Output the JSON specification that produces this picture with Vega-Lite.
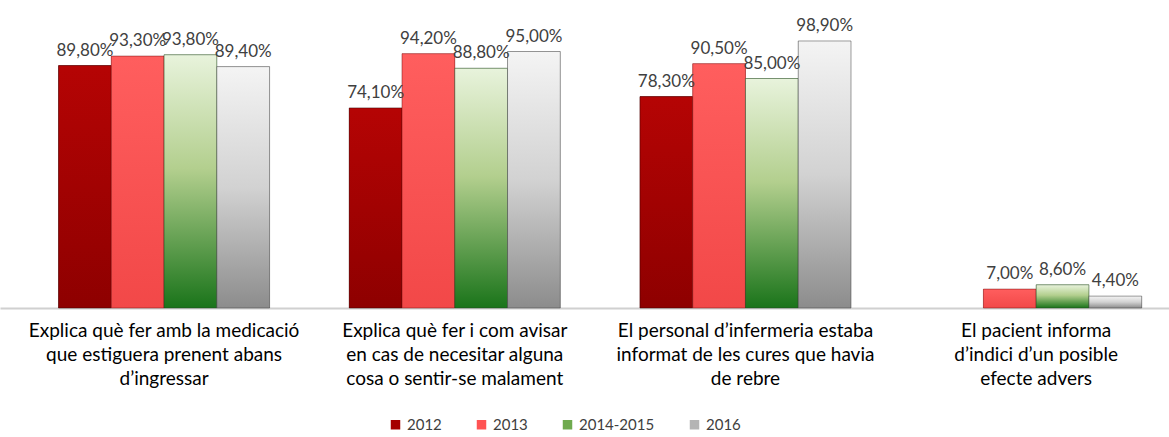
{
  "$schema": "https://vega.github.io/schema/vega-lite/v6.json",
  "width": 1169,
  "height": 270,
  "autosize": {"type": "none"},
  "padding": {"top": 38, "left": 0, "right": 0, "bottom": 129},
  "config": {
    "view": {"stroke": null},
    "font": "Lato",
    "locale": {"number": {"decimal": ",", "thousands": ".", "grouping": [3], "currency": ["", " €"]}}
  },
  "data": {
    "values": [
      {"cat": "Explica què fer amb la medicació|que estiguera prenent abans|d’ingressar", "series": "2012", "value": 0.898},
      {"cat": "Explica què fer amb la medicació|que estiguera prenent abans|d’ingressar", "series": "2013", "value": 0.933},
      {"cat": "Explica què fer amb la medicació|que estiguera prenent abans|d’ingressar", "series": "2014-2015", "value": 0.938},
      {"cat": "Explica què fer amb la medicació|que estiguera prenent abans|d’ingressar", "series": "2016", "value": 0.894},
      {"cat": "Explica què fer i com avisar|en cas de necesitar alguna|cosa o sentir-se malament", "series": "2012", "value": 0.741},
      {"cat": "Explica què fer i com avisar|en cas de necesitar alguna|cosa o sentir-se malament", "series": "2013", "value": 0.942},
      {"cat": "Explica què fer i com avisar|en cas de necesitar alguna|cosa o sentir-se malament", "series": "2014-2015", "value": 0.888},
      {"cat": "Explica què fer i com avisar|en cas de necesitar alguna|cosa o sentir-se malament", "series": "2016", "value": 0.95},
      {"cat": "El personal d’infermeria estaba|informat de les cures que havia|de rebre", "series": "2012", "value": 0.783},
      {"cat": "El personal d’infermeria estaba|informat de les cures que havia|de rebre", "series": "2013", "value": 0.905},
      {"cat": "El personal d’infermeria estaba|informat de les cures que havia|de rebre", "series": "2014-2015", "value": 0.85},
      {"cat": "El personal d’infermeria estaba|informat de les cures que havia|de rebre", "series": "2016", "value": 0.989},
      {"cat": "El pacient informa|d’indici d’un posible|efecte advers", "series": "2013", "value": 0.07},
      {"cat": "El pacient informa|d’indici d’un posible|efecte advers", "series": "2014-2015", "value": 0.086},
      {"cat": "El pacient informa|d’indici d’un posible|efecte advers", "series": "2016", "value": 0.044}
    ]
  },
  "encoding": {
    "x": {
      "field": "cat",
      "type": "nominal",
      "sort": null,
      "scale": {"paddingInner": 0.274, "paddingOuter": 0.1476, "align": 0.682},
      "axis": {
        "title": null,
        "labelAngle": 0,
        "labelExpr": "split(datum.label, '|')",
        "labelFont": "Lato",
        "labelFontSize": 19,
        "labelColor": "#000000",
        "labelLineHeight": 24,
        "labelPadding": 13,
        "labelLimit": 400,
        "ticks": false,
        "domainColor": "#D0D0D0",
        "domainWidth": 2
      }
    },
    "xOffset": {
      "field": "series",
      "type": "nominal",
      "scale": {"domain": ["2012", "2013", "2014-2015", "2016"], "paddingInner": 0, "paddingOuter": 0}
    },
    "y": {"field": "value", "type": "quantitative", "scale": {"domain": [0, 1]}, "axis": null}
  },
  "layer": [
    {
      "mark": {"type": "bar"},
      "encoding": {
        "color": {
          "field": "series",
          "type": "nominal",
          "scale": {"domain": ["2012", "2013", "2014-2015", "2016"], "range": ["#A50000", "#FF5353", "#6FAA4E", "#B4B4B4"]},
          "legend": {
            "orient": "none",
            "legendX": 388,
            "legendY": 379,
            "direction": "horizontal",
            "title": null,
            "symbolType": "square",
            "symbolSize": 90,
            "symbolStrokeWidth": 0,
            "labelFont": "Lato",
            "labelFontSize": 15,
            "labelColor": "#404040",
            "labelOffset": 4,
            "columnPadding": 32
          }
        }
      }
    },
    {
      "transform": [{"filter": "datum.series === '2012'"}],
      "mark": {"type": "bar", "fill": {"gradient": "linear", "x1": 0, "y1": 0, "x2": 0, "y2": 1, "stops": [{"offset": 0, "color": "#B50404"}, {"offset": 1, "color": "#8E0000"}]}, "stroke": "#3A0000", "strokeOpacity": 0.5, "strokeWidth": 1}
    },
    {
      "transform": [{"filter": "datum.series === '2013'"}],
      "mark": {"type": "bar", "fill": {"gradient": "linear", "x1": 0, "y1": 0, "x2": 0, "y2": 1, "stops": [{"offset": 0, "color": "#FF5E5E"}, {"offset": 1, "color": "#F24848"}]}, "stroke": "#7A1010", "strokeOpacity": 0.5, "strokeWidth": 1}
    },
    {
      "transform": [{"filter": "datum.series === '2014-2015'"}],
      "mark": {"type": "bar", "fill": {"gradient": "linear", "x1": 0, "y1": 0, "x2": 0, "y2": 1, "stops": [{"offset": 0, "color": "#E8F3DC"}, {"offset": 0.45, "color": "#B3CF8E"}, {"offset": 1, "color": "#1A741A"}]}, "stroke": "#1F3F1F", "strokeOpacity": 0.5, "strokeWidth": 1}
    },
    {
      "transform": [{"filter": "datum.series === '2016'"}],
      "mark": {"type": "bar", "fill": {"gradient": "linear", "x1": 0, "y1": 0, "x2": 0, "y2": 1, "stops": [{"offset": 0, "color": "#F4F4F4"}, {"offset": 0.5, "color": "#D2D2D2"}, {"offset": 1, "color": "#8C8C8C"}]}, "stroke": "#404040", "strokeOpacity": 0.5, "strokeWidth": 1}
    },
    {
      "mark": {"type": "text", "dy": -10, "baseline": "alphabetic", "font": "Lato", "fontSize": 17, "color": "#404040"},
      "encoding": {"text": {"field": "value", "type": "quantitative", "format": ".2%"}}
    }
  ]
}
